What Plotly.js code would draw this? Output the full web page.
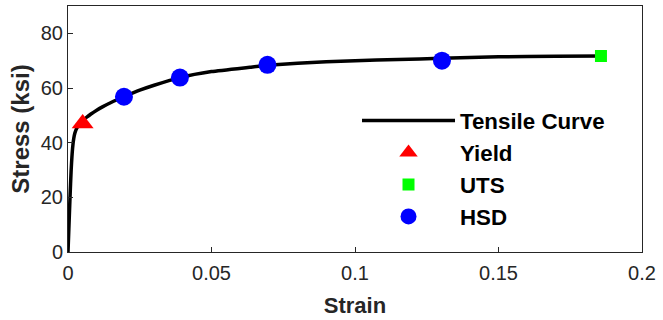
<!DOCTYPE html>
<html><head><meta charset="utf-8">
<script src="https://cdn.plot.ly/plotly-3.0.1.min.js"></script>
<style>html,body{margin:0;padding:0;background:#fff}#chart{width:663px;height:320px}</style>
</head><body><div id="chart"></div>
<script>
const curveStrain = [0, 0.0003, 0.0007, 0.0011, 0.0016, 0.002, 0.0024, 0.003, 0.004, 0.005, 0.0065, 0.008, 0.01, 0.012, 0.015, 0.0195, 0.025, 0.03, 0.039, 0.05, 0.0634, 0.0695, 0.08, 0.09, 0.1, 0.115, 0.13, 0.15, 0.17, 0.1857];
const curveStress = [0, 8.5, 20, 30, 38, 41.5, 43.5, 45.2, 46.8, 47.9, 49.3, 50.5, 51.9, 53.1, 54.7, 56.8, 59.2, 61.0, 63.8, 66.0, 67.6, 68.3, 69.1, 69.6, 70.0, 70.4, 70.9, 71.4, 71.6, 71.7];
const yieldStrain = [0.0051];
const yieldStress = [47.0];
const utsStrain = [0.1857];
const utsStress = [71.7];
const hsdStrain = [0.0195, 0.039, 0.0695, 0.1303];
const hsdStress = [56.8, 63.8, 68.5, 70.0];
const xTicks = [0, 0.05, 0.1, 0.15, 0.2];
const xTickText = ['0', '0.05', '0.1', '0.15', '0.2'];
const yTicks = [0, 20, 40, 60, 80];

const traces = [
  {x: curveStrain, y: curveStress, mode: 'lines', name: 'Tensile Curve', line: {color: '#000', width: 3.5, shape: 'spline', smoothing: 0.5}},
  {x: yieldStrain, y: yieldStress, mode: 'markers', name: 'Yield', marker: {symbol: 'triangle-up', color: '#ff0000', size: 19}},
  {x: utsStrain, y: utsStress, mode: 'markers', name: 'UTS', marker: {symbol: 'square', color: '#00ff00', size: 12}},
  {x: hsdStrain, y: hsdStress, mode: 'markers', name: 'HSD', marker: {symbol: 'circle', color: '#0000ff', size: 18}}
];
const axisCommon = {showgrid: false, zeroline: false, showline: true, mirror: true, linecolor: '#262626', linewidth: 1,
  ticks: 'inside', ticklen: 5, tickcolor: '#262626', tickfont: {family: 'Arial, Liberation Sans', size: 20, color: '#262626'}};
const layout = {
  width: 663, height: 320,
  margin: {l: 68, r: 21, t: 6, b: 68},
  paper_bgcolor: '#fff', plot_bgcolor: '#fff',
  xaxis: Object.assign({}, axisCommon, {range: [0, 0.2], tickvals: xTicks, ticktext: xTickText, ticklabelstandoff: 3,
    title: {text: '<b>Strain</b>', font: {family: 'Arial, Liberation Sans', size: 22, color: '#262626'}, standoff: 14}}),
  yaxis: Object.assign({}, axisCommon, {range: [0, 90], tickvals: yTicks,
    title: {text: '<b>Stress (ksi)</b>', font: {family: 'Arial, Liberation Sans', size: 24, color: '#262626'}, standoff: 4}}),
  showlegend: true,
  legend: {x: 0.5035, y: 0.62, xanchor: 'left', yanchor: 'top', bgcolor: 'rgba(0,0,0,0)', itemwidth: 93,
    font: {family: 'Arial, Liberation Sans', size: 22.3, color: '#000'}, tracegroupgap: 0}
};
traces.forEach(t => { t.name = '<b>' + t.name + '</b>'; });
Plotly.newPlot('chart', traces, layout, {displayModeBar: false, staticPlot: true});
</script></body></html>
